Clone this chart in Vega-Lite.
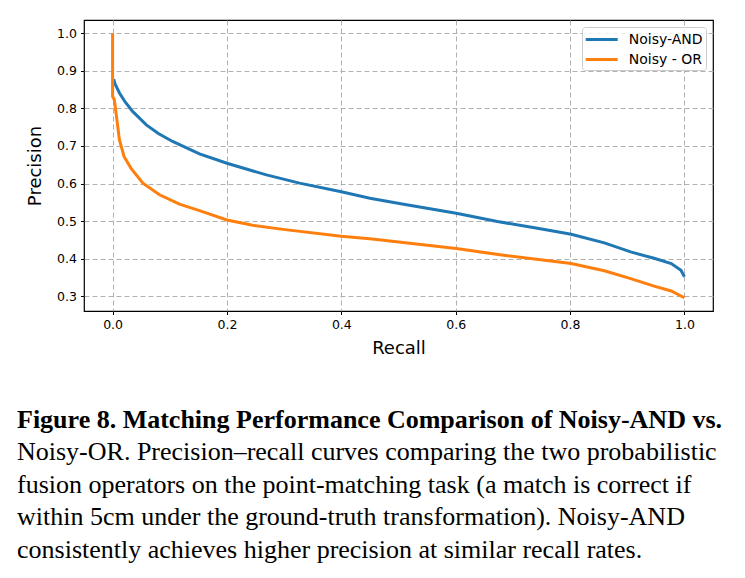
{
  "$schema": "https://vega.github.io/schema/vega-lite/v6.json",
  "autosize": "none",
  "width": 629,
  "height": 291,
  "padding": {"left": 84, "top": 20, "right": 32, "bottom": 267},
  "background": "white",
  "title": {
    "text": "Figure 8. Matching Performance Comparison of Noisy-AND vs.",
    "subtitle": [
      "Noisy-OR. Precision–recall curves comparing the two probabilistic",
      "fusion operators on the point-matching task (a match is correct if",
      "within 5cm under the ground-truth transformation).  Noisy-AND",
      "consistently achieves higher precision at similar recall rates."
    ],
    "orient": "bottom",
    "anchor": "start",
    "frame": "group",
    "dx": -67,
    "offset": 50,
    "font": "Liberation Serif",
    "fontSize": 26,
    "fontWeight": "bold",
    "color": "black",
    "subtitleFont": "Liberation Serif",
    "subtitleFontSize": 26,
    "subtitleFontWeight": "normal",
    "subtitleColor": "black",
    "subtitleLineHeight": 32.5,
    "subtitlePadding": 6
  },
  "data": {
    "values": [
      {"series": "Noisy-AND", "i": 0, "recall": 0.002, "precision": 0.878},
      {"series": "Noisy-AND", "i": 1, "recall": 0.004, "precision": 0.866},
      {"series": "Noisy-AND", "i": 2, "recall": 0.012, "precision": 0.841},
      {"series": "Noisy-AND", "i": 3, "recall": 0.022, "precision": 0.817},
      {"series": "Noisy-AND", "i": 4, "recall": 0.035, "precision": 0.792},
      {"series": "Noisy-AND", "i": 5, "recall": 0.059, "precision": 0.756},
      {"series": "Noisy-AND", "i": 6, "recall": 0.08, "precision": 0.733},
      {"series": "Noisy-AND", "i": 7, "recall": 0.105, "precision": 0.712},
      {"series": "Noisy-AND", "i": 8, "recall": 0.152, "precision": 0.679},
      {"series": "Noisy-AND", "i": 9, "recall": 0.2, "precision": 0.654},
      {"series": "Noisy-AND", "i": 10, "recall": 0.269, "precision": 0.623},
      {"series": "Noisy-AND", "i": 11, "recall": 0.327, "precision": 0.601},
      {"series": "Noisy-AND", "i": 12, "recall": 0.4, "precision": 0.578},
      {"series": "Noisy-AND", "i": 13, "recall": 0.45, "precision": 0.561},
      {"series": "Noisy-AND", "i": 14, "recall": 0.509, "precision": 0.545},
      {"series": "Noisy-AND", "i": 15, "recall": 0.601, "precision": 0.521},
      {"series": "Noisy-AND", "i": 16, "recall": 0.673, "precision": 0.499},
      {"series": "Noisy-AND", "i": 17, "recall": 0.743, "precision": 0.481},
      {"series": "Noisy-AND", "i": 18, "recall": 0.802, "precision": 0.465},
      {"series": "Noisy-AND", "i": 19, "recall": 0.86, "precision": 0.442},
      {"series": "Noisy-AND", "i": 20, "recall": 0.906, "precision": 0.418},
      {"series": "Noisy-AND", "i": 21, "recall": 0.947, "precision": 0.401},
      {"series": "Noisy-AND", "i": 22, "recall": 0.977, "precision": 0.387},
      {"series": "Noisy-AND", "i": 23, "recall": 0.994, "precision": 0.369},
      {"series": "Noisy-AND", "i": 24, "recall": 1.0, "precision": 0.352},
      {"series": "Noisy - OR", "i": 0, "recall": 0.0, "precision": 1.0},
      {"series": "Noisy - OR", "i": 1, "recall": 0.0, "precision": 0.832},
      {"series": "Noisy - OR", "i": 2, "recall": 0.003, "precision": 0.823},
      {"series": "Noisy - OR", "i": 3, "recall": 0.006, "precision": 0.788},
      {"series": "Noisy - OR", "i": 4, "recall": 0.012, "precision": 0.716},
      {"series": "Noisy - OR", "i": 5, "recall": 0.02, "precision": 0.672},
      {"series": "Noisy - OR", "i": 6, "recall": 0.032, "precision": 0.641},
      {"series": "Noisy - OR", "i": 7, "recall": 0.053, "precision": 0.601},
      {"series": "Noisy - OR", "i": 8, "recall": 0.082, "precision": 0.57},
      {"series": "Noisy - OR", "i": 9, "recall": 0.117, "precision": 0.545},
      {"series": "Noisy - OR", "i": 10, "recall": 0.152, "precision": 0.528},
      {"series": "Noisy - OR", "i": 11, "recall": 0.2, "precision": 0.503},
      {"series": "Noisy - OR", "i": 12, "recall": 0.245, "precision": 0.489},
      {"series": "Noisy - OR", "i": 13, "recall": 0.298, "precision": 0.478},
      {"series": "Noisy - OR", "i": 14, "recall": 0.4, "precision": 0.46},
      {"series": "Noisy - OR", "i": 15, "recall": 0.45, "precision": 0.453},
      {"series": "Noisy - OR", "i": 16, "recall": 0.601, "precision": 0.427},
      {"series": "Noisy - OR", "i": 17, "recall": 0.684, "precision": 0.409},
      {"series": "Noisy - OR", "i": 18, "recall": 0.802, "precision": 0.387},
      {"series": "Noisy - OR", "i": 19, "recall": 0.86, "precision": 0.368},
      {"series": "Noisy - OR", "i": 20, "recall": 0.906, "precision": 0.347},
      {"series": "Noisy - OR", "i": 21, "recall": 0.947, "precision": 0.327},
      {"series": "Noisy - OR", "i": 22, "recall": 0.977, "precision": 0.314},
      {"series": "Noisy - OR", "i": 23, "recall": 1.0, "precision": 0.296}
    ]
  },
  "mark": {"type": "line", "strokeWidth": 3, "clip": true},
  "encoding": {
    "x": {
      "field": "recall",
      "type": "quantitative",
      "title": "Recall",
      "scale": {"domain": [-0.05, 1.05], "nice": false, "zero": false},
      "axis": {"values": [0, 0.2, 0.4, 0.6, 0.8, 1.0], "format": ".1f"}
    },
    "y": {
      "field": "precision",
      "type": "quantitative",
      "title": "Precision",
      "scale": {"domain": [0.2608, 1.0352], "nice": false, "zero": false},
      "axis": {"values": [0.3, 0.4, 0.5, 0.6, 0.7, 0.8, 0.9, 1.0], "format": ".1f"}
    },
    "color": {
      "field": "series",
      "type": "nominal",
      "sort": ["Noisy-AND", "Noisy - OR"],
      "scale": {"domain": ["Noisy-AND", "Noisy - OR"], "range": ["#1f77b4", "#ff7f0e"]},
      "legend": {
        "title": null,
        "orient": "top-right",
        "offset": 7,
        "symbolType": "M-1.1,0H2.9",
        "symbolSize": 256,
        "symbolStrokeWidth": 3,
        "labelFont": "DejaVu Sans",
        "labelFontSize": 14,
        "labelColor": "black",
        "labelOffset": 24.7,
        "strokeColor": "#cccccc",
        "fillColor": "rgba(255,255,255,0.8)",
        "cornerRadius": 3,
        "padding": 3,
        "rowPadding": 3
      }
    },
    "order": {"field": "i", "type": "quantitative"}
  },
  "config": {
    "view": {"stroke": "black", "strokeWidth": 1.2},
    "axis": {
      "domain": false,
      "grid": true,
      "gridColor": "#b0b0b0",
      "gridDash": [5, 3],
      "gridWidth": 1,
      "ticks": true,
      "tickColor": "black",
      "tickSize": 3.5,
      "tickWidth": 1,
      "labelFont": "DejaVu Sans",
      "labelFontSize": 12.5,
      "labelColor": "black",
      "labelPadding": 4,
      "titleFont": "DejaVu Sans",
      "titleFontSize": 18,
      "titleFontWeight": "normal",
      "titleColor": "black"
    },
    "axisX": {"titlePadding": 8},
    "axisY": {"titlePadding": 12}
  }
}
